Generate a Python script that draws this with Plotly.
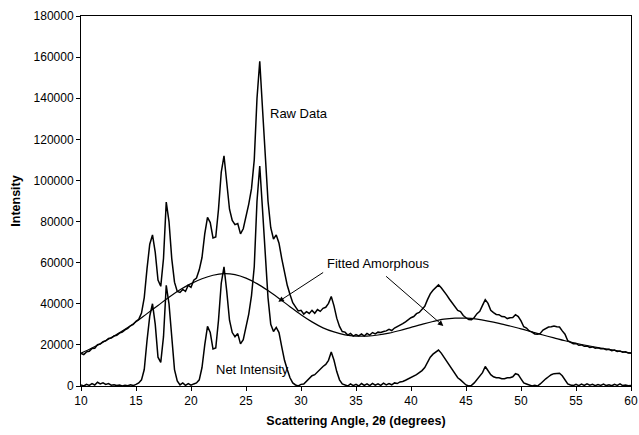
import numpy as np
import plotly.graph_objects as go

# Scattering angle sampling (degrees)
angle_start, angle_end = 10, 60

# Raw data intensity (thousands of counts), 0.25 degree steps from 10 to 60
raw_k = [
    15.8, 15.3, 16.6, 16.9, 18.3, 18.4, 20.1, 20.4, 21.6, 22.0, 23.1, 23.3, 24.3, 24.6, 25.7, 26.2, 27.3, 28.0, 29.3, 30.0,
    31.5, 32.4, 35.5, 43.0, 57.0, 69.0, 73.5, 65.0, 51.5, 48.5, 62.0, 89.5, 80.0, 62.0, 50.5, 46.0, 45.5, 47.0, 46.0, 49.0,
    48.0, 51.5, 52.5, 56.5, 62.5, 74.0, 82.0, 79.5, 72.0, 72.5, 86.0, 104.0, 112.0, 100.0, 86.0, 80.5, 78.5, 79.0, 74.0, 76.5,
    82.0, 88.5, 96.0, 110.0, 140.0, 158.0, 135.0, 112.0, 90.0, 77.0, 71.5, 73.5, 69.5, 62.0, 55.5, 49.0, 44.5, 40.5, 38.5, 36.5,
    36.8, 35.0, 36.2, 35.3, 36.8, 35.4, 37.2, 36.3, 37.8, 38.3, 40.2, 43.5, 39.0, 33.0, 29.0, 26.5, 26.2, 24.8, 25.6, 24.3,
    25.0, 24.4, 25.3, 24.3, 25.6, 24.8, 26.0, 25.3, 26.2, 26.0, 26.5, 26.8, 27.6, 27.0, 28.2, 28.8, 29.6, 30.3, 31.2, 32.3,
    33.2, 33.8, 35.2, 35.8, 37.2, 38.8, 42.0, 44.8, 46.6, 47.8, 49.2, 47.8, 46.2, 44.2, 42.2, 40.2, 38.8, 36.8, 36.2, 34.3,
    33.2, 32.3, 32.2, 33.3, 35.2, 36.3, 39.2, 42.0, 40.2, 36.8, 35.7, 34.8, 34.7, 33.8, 33.7, 32.8, 33.2, 33.3, 34.7, 33.8,
    31.7, 28.8, 28.2, 26.8, 26.2, 25.3, 25.2, 25.6, 27.2, 27.8, 28.7, 28.8, 29.2, 28.8, 28.7, 26.8, 25.2, 22.0, 21.2, 20.6,
    20.7, 19.8, 20.0, 19.3, 19.5, 18.8, 19.0, 18.4, 18.6, 18.1, 18.2, 17.6, 17.9, 17.2, 17.5, 16.8, 17.0, 16.4, 16.6, 16.1,
    16.0,
]

# Net intensity (thousands), same sampling
net_k = [
    0.5, 0.0, 0.8, 0.3, 1.2, 0.5, 1.8, 1.0, 1.5, 0.8, 1.2, 0.4, 0.6, 0.2, 0.5, 0.0, 0.4, 0.1, 0.6, 0.2,
    0.8, 1.5, 3.0, 8.0, 22.0, 34.0, 40.0, 30.0, 14.0, 11.5, 24.0, 49.0, 40.0, 22.0, 8.0, 2.5, 0.5, 1.5, 0.3, 1.2,
    0.4, 1.0, 1.5, 3.0, 9.0, 20.0, 29.0, 26.0, 18.0, 18.5, 32.0, 50.0, 58.0, 46.0, 32.0, 26.0, 24.0, 25.5, 20.5, 22.5,
    29.0, 35.0, 44.0, 58.0, 90.0, 107.0, 86.0, 64.0, 43.0, 30.0, 26.5, 28.5, 26.0, 19.0, 12.5, 8.0, 4.0, 1.5, 0.5, 0.0,
    0.8, 1.0, 2.5, 3.5, 5.0, 5.5, 7.0, 8.0, 9.5, 10.5, 12.5, 16.5, 12.5, 7.0, 3.0, 1.0, 0.5, 0.0, 1.0, 0.2,
    0.8, 0.0, 1.2, 0.3, 1.0, 0.2, 1.3, 0.4, 1.1, 0.3, 1.4, 0.5, 1.2, 0.6, 1.5, 1.2, 2.0, 2.2, 2.8, 3.5,
    4.0, 4.5, 5.5, 6.5, 7.5, 9.0, 11.5, 14.0, 15.5, 16.5, 17.5, 16.0, 14.0, 12.0, 10.0, 8.0, 6.0, 4.0, 3.0, 1.8,
    0.5, 0.0, 0.3, 1.5, 3.0, 4.5, 6.5, 9.5, 7.5, 5.5, 4.5, 4.0, 4.0, 3.5, 3.5, 4.0, 4.0, 4.5, 6.0, 5.5,
    3.5, 1.5, 1.0, 0.5, 0.0, 0.3, 0.0, 1.0, 2.5, 3.5, 4.5, 5.5, 6.0, 6.0, 6.2, 5.0, 3.0, 1.0, 0.5, 0.2,
    0.8, 0.2, 0.9, 0.3, 1.0, 0.4, 0.8, 0.2, 0.7, 0.3, 0.9, 0.2, 0.6, 0.1, 0.8, 0.3, 1.0, 0.2, 0.5, 0.1,
    0.3,
]

# Fitted amorphous (thousands), 1 degree steps from 10 to 60
fit_k = [
    16.0, 18.5, 21.3, 24.3, 27.6, 31.2, 35.2, 39.2, 43.2, 46.8,
    49.8, 52.2, 53.9, 54.7, 54.2, 52.5, 49.8, 46.4, 42.6, 38.6,
    34.7, 31.2, 28.3, 26.3, 24.9, 24.3, 24.3, 24.8, 25.7, 27.0,
    28.5, 30.0, 31.4, 32.5, 33.0, 33.0, 32.5, 31.6, 30.5, 29.2,
    27.8, 26.3, 24.8, 23.4, 22.0, 20.8, 19.7, 18.7, 17.8, 16.9,
    16.0,
]

x_dense = np.linspace(angle_start, angle_end, len(raw_k))
x_fit = np.linspace(angle_start, angle_end, len(fit_k))
raw = np.array(raw_k) * 1000
net = np.array(net_k) * 1000
fit = np.array(fit_k) * 1000

FONT = "Arial, Liberation Sans, sans-serif"

fig = go.Figure()
fig.add_trace(go.Scatter(x=x_dense, y=raw, mode="lines",
                         line=dict(color="black", width=1.5), name="Raw Data"))
fig.add_trace(go.Scatter(x=x_dense, y=net, mode="lines",
                         line=dict(color="black", width=1.5), name="Net Intensity"))
fig.add_trace(go.Scatter(x=x_fit, y=fit, mode="lines", line_shape="spline",
                         line=dict(color="black", width=1.2), name="Fitted Amorphous"))

# text labels
fig.add_annotation(x=27.0, y=132800, text="Raw Data", showarrow=False,
                   xanchor="left", yanchor="middle", font=dict(family=FONT, size=13, color="black"))
fig.add_annotation(x=32.2, y=59500, text="Fitted Amorphous", showarrow=False,
                   xanchor="left", yanchor="middle", font=dict(family=FONT, size=13, color="black"))
fig.add_annotation(x=22.1, y=7800, text="Net Intensity", showarrow=False,
                   xanchor="left", yanchor="middle", font=dict(family=FONT, size=13, color="black"))
# arrows
for hx, hy, tx, ty in [(27.94, 41000, 32.15, 55700), (42.94, 29200, 37.6, 54000)]:
    fig.add_annotation(x=hx, y=hy, ax=tx, ay=ty, xref="x", yref="y", axref="x", ayref="y",
                       text="", showarrow=True, arrowhead=2, arrowsize=1.1, arrowwidth=1,
                       arrowcolor="black")

fig.update_xaxes(range=[10, 60], dtick=5, tick0=10, ticks="outside", ticklen=4,
                 tickcolor="black", showline=True, linecolor="black", linewidth=1,
                 mirror=True, showgrid=False, zeroline=False, automargin=False,
                 tickfont=dict(family=FONT, size=12, color="black"),
                 title=dict(text="<b>Scattering Angle, 2θ (degrees)</b>",
                            font=dict(family=FONT, size=12.5, color="black"), standoff=8))
fig.update_yaxes(range=[0, 180000], dtick=20000, ticks="outside", ticklen=4,
                 tickcolor="black", showline=True, linecolor="black", linewidth=1,
                 mirror=True, showgrid=False, zeroline=False, tickformat="d", automargin=False,
                 tickfont=dict(family=FONT, size=12, color="black"),
                 title=dict(text="<b>Intensity</b>",
                            font=dict(family=FONT, size=12.5, color="black"), standoff=10))
fig.update_layout(width=639, height=435, showlegend=False,
                  margin=dict(l=81, r=8, t=16, b=49),
                  paper_bgcolor="white", plot_bgcolor="white")
fig.write_html("out.html")
